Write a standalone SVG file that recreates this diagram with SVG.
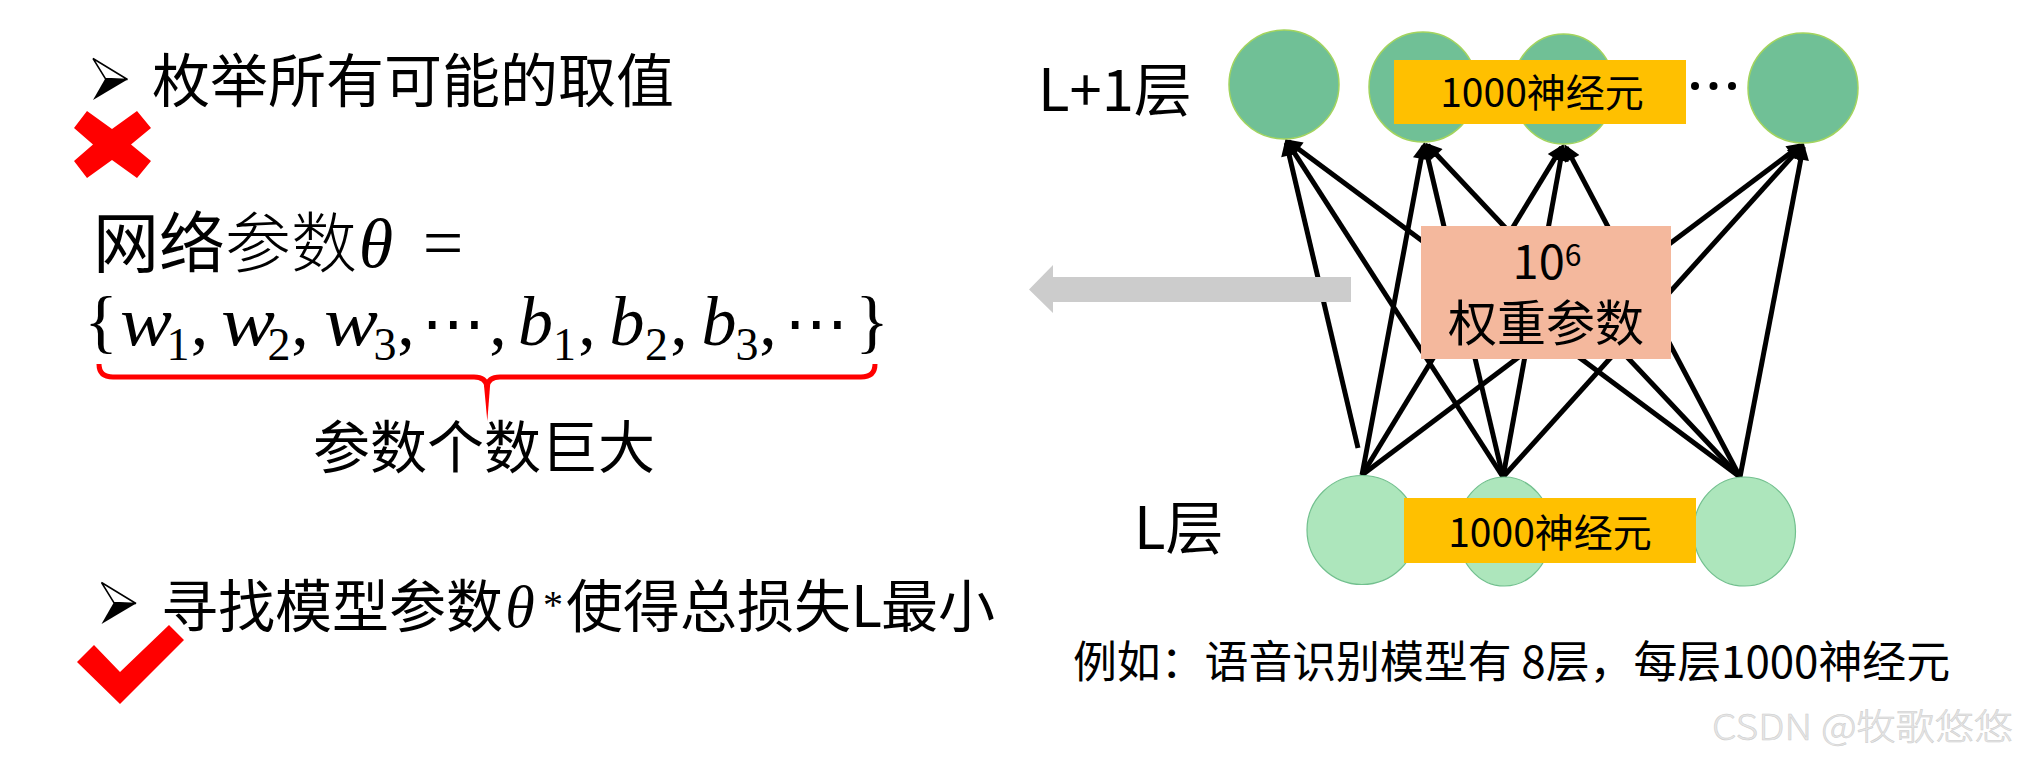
<svg xmlns="http://www.w3.org/2000/svg" width="2018" height="760" viewBox="0 0 2018 760">
<style>
.cjk{font-family:"Noto Sans CJK SC","Liberation Sans",sans-serif;fill:#000}
.m{font-family:"Liberation Serif","DejaVu Serif",serif;fill:#000;text-anchor:middle}
.it{font-style:italic}
.dots{font-family:"DejaVu Sans",sans-serif;fill:#000;text-anchor:middle}
.top{fill:#70C096;stroke:#A3D45E;stroke-width:1.5}
.bot{fill:#ADE6BC;stroke:#72C08E;stroke-width:1.2}
.yel{fill:#FFC000}
.conn line{stroke:#000;stroke-width:5;marker-end:url(#ah)}
</style>
<defs>
<marker id="ah" viewBox="0 0 10 10" refX="7.8" refY="5" markerWidth="3.6" markerHeight="3.3" orient="auto" markerUnits="strokeWidth">
<path d="M0,0 L10,5 L0,10 z" fill="#000"/>
</marker>
<g id="bullet">
<polygon points="0,0 34.5,21 12.3,20" fill="#fff" stroke="#000" stroke-width="1.5" stroke-linejoin="miter"/>
<polygon points="12.3,20 34.5,21 0,41.5" fill="#000"/>
</g>
</defs>
<rect width="2018" height="760" fill="#fff"/>

<!-- left: option 1 -->
<g id="option1">
<use href="#bullet" x="93" y="58.5"/>
<text class="cjk" x="152" y="102" font-size="58">枚举所有可能的取值</text>
<polygon id="cross" points="87,111 112,129 137,111 151,128 131,144.5 151,161 137,178 112,160 87,178 74,161 93,144.5 74,128" fill="#FF0000"/>
</g>

<g id="formula">
<text class="cjk" x="93" y="267" font-size="66">网络<tspan font-weight="300">参数</tspan></text>
<text class="m it" x="376" y="267" font-size="70">θ</text>
<text class="m" x="443" y="267" font-size="72">=</text>
<g font-size="70">
<text class="m" x="101" y="345" font-size="70">{</text>
<text class="m it" x="146" y="345" textLength="52" lengthAdjust="spacingAndGlyphs">w</text>
<text class="m" x="178" y="360" font-size="46">1</text>
<text class="m" x="199.5" y="345">,</text>
<text class="m it" x="248" y="345" textLength="54" lengthAdjust="spacingAndGlyphs">w</text>
<text class="m" x="279" y="360" font-size="46">2</text>
<text class="m" x="300" y="345">,</text>
<text class="m it" x="351" y="345" textLength="54" lengthAdjust="spacingAndGlyphs">w</text>
<text class="m" x="385" y="360" font-size="46">3</text>
<text class="m" x="406" y="345">,</text>
<text class="dots" x="453.5" y="345" font-size="64">⋯</text>
<text class="m" x="498" y="345">,</text>
<text class="m it" x="535.5" y="345">b</text>
<text class="m" x="564.5" y="360" font-size="46">1</text>
<text class="m" x="587" y="345">,</text>
<text class="m it" x="627" y="345">b</text>
<text class="m" x="656.5" y="360" font-size="46">2</text>
<text class="m" x="679" y="345">,</text>
<text class="m it" x="719" y="345">b</text>
<text class="m" x="747" y="360" font-size="46">3</text>
<text class="m" x="768" y="345">,</text>
<text class="dots" x="816.5" y="345" font-size="64">⋯</text>
<text class="m" x="872" y="345" font-size="70">}</text>
</g>
<path d="M99,364 Q99,377 113,377 L474,377 Q486,377 487,387 Q488,377 500,377 L861,377 Q875,377 875,364" fill="none" stroke="#FF0000" stroke-width="5"/>
<polygon points="483.5,380 490.5,380 487.3,421" fill="#FF0000"/>
<text class="cjk" x="313" y="468" font-size="57">参数个数巨大</text>
</g>

<g id="option2">
<use href="#bullet" x="101.5" y="582.5"/>
<text class="cjk" y="627" font-size="57"><tspan x="161">寻找模型参数</tspan></text>
<text class="m it" x="520" y="627" font-size="60">θ</text>
<text class="m" x="553" y="618" font-size="40">*</text>
<text class="cjk" y="627" font-size="57"><tspan x="566">使得总损失</tspan><tspan x="851">L</tspan><tspan x="881">最小</tspan></text>
<polygon id="check" points="169,625 184,640 120,704 77,662 94,645 120,672" fill="#FF0000"/>
</g>

<!-- connectors -->
<g id="connectors" class="conn">
<line x1="1358" y1="448" x2="1286.3" y2="142.9"/>
<line x1="1503" y1="477" x2="1287.6" y2="142.4"/>
<line x1="1740" y1="477" x2="1288.4" y2="141.4"/>
<line x1="1362" y1="475" x2="1423.5" y2="146"/>
<line x1="1503" y1="477" x2="1425" y2="145.9"/>
<line x1="1740" y1="477" x2="1427.8" y2="145.3"/>
<line x1="1362" y1="475" x2="1561.5" y2="147.4"/>
<line x1="1503" y1="477" x2="1562.8" y2="147.9"/>
<line x1="1740" y1="477" x2="1566.1" y2="147.4"/>
<line x1="1362" y1="475" x2="1800.7" y2="145.2"/>
<line x1="1503" y1="477" x2="1801.6" y2="146.1"/>
<line x1="1740" y1="477" x2="1803.2" y2="146.9"/>
</g>

<polygon id="bigArrow" points="1351,277 1053,277 1053,265 1029,289.5 1053,313 1053,302 1351,302" fill="#CCCCCC"/>

<!-- L+1 layer -->
<text id="labelTop" class="cjk" x="1038" y="111" font-size="58">L+1层</text>
<g id="nodeT1"><ellipse class="top" cx="1284" cy="84.5" rx="55" ry="54.5"/></g>
<g id="nodeT2"><ellipse class="top" cx="1423" cy="87" rx="54" ry="55"/></g>
<g id="nodeT3"><ellipse class="top" cx="1563.5" cy="89" rx="51" ry="55"/></g>
<g id="nodeT4"><ellipse class="top" cx="1803" cy="88" rx="55" ry="55"/></g>
<g id="boxTop">
<rect class="yel" x="1394" y="60" width="292" height="64"/>
<text class="cjk" x="1542" y="107" font-size="39" text-anchor="middle">1000神经元</text>
</g>
<g id="ellipsis" fill="#000">
<circle cx="1695" cy="86" r="4"/><circle cx="1713.5" cy="86" r="4"/><circle cx="1732" cy="86" r="4"/>
</g>

<!-- L layer -->
<text id="labelBot" class="cjk" x="1134" y="549" font-size="58">L层</text>
<g id="nodeB1"><ellipse class="bot" cx="1362" cy="530" rx="55" ry="54.5"/></g>
<g id="nodeB2"><ellipse class="bot" cx="1504.5" cy="531.5" rx="47" ry="54.5"/></g>
<g id="nodeB3"><ellipse class="bot" cx="1744.5" cy="531.5" rx="51" ry="54.5"/></g>
<g id="boxBot">
<rect class="yel" x="1404" y="498" width="292" height="65"/>
<text class="cjk" x="1550" y="547" font-size="39" text-anchor="middle">1000神经元</text>
</g>

<g id="weights">
<rect x="1421" y="226" width="250" height="133" fill="#F4B89D"/>
<text class="cjk" text-anchor="middle"><tspan x="1547" y="279" font-size="47">10<tspan font-size="30" dy="-13">6</tspan></tspan><tspan x="1546" y="341" font-size="49">权重参数</tspan></text>
</g>

<text id="caption" class="cjk" x="1073" y="678" font-size="44" textLength="877" lengthAdjust="spacingAndGlyphs">例如：语音识别模型有 8层，每层1000神经元</text>
<text id="watermark" x="1712" y="740" font-size="36" font-family="Noto Sans CJK SC, Liberation Sans, sans-serif" font-weight="300" fill="#e6e6e6" stroke="#cccccc" stroke-width="0.5" textLength="301" lengthAdjust="spacingAndGlyphs">CSDN @牧歌悠悠</text>
</svg>
